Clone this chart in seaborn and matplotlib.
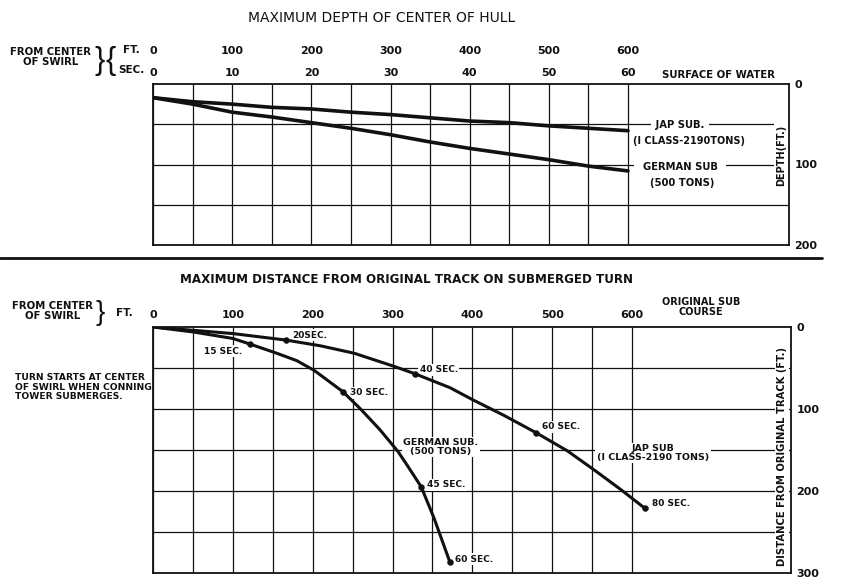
import numpy as np
import pandas as pd
import matplotlib
matplotlib.use("Agg")
import matplotlib.pyplot as plt
import seaborn as sns
from matplotlib.lines import Line2D

# ---------------- data ----------------
# Top chart: maximum depth of center of hull (ft) vs distance from center of swirl (ft)
depth_dist_ft = [0, 50, 100, 150, 200, 250, 300, 350, 400, 450, 500, 550, 600]
jap_depth = [17, 22, 25, 29, 31, 35, 38, 42, 46, 48, 52, 55, 58]
german_depth = [17, 25, 35, 41, 48, 55, 63, 72, 80, 87, 94, 102, 108]

# Bottom chart: distance from original track (ft) vs distance along course (ft)
german_turn_x = [0, 50, 100, 122, 155, 180, 202, 238, 260, 284, 307, 320, 336, 352, 372]
german_turn_y = [0, 6, 14, 21, 32, 41, 53, 79, 100, 125, 152, 171, 195, 233, 287]
jap_turn_x = [0, 50, 100, 167, 210, 252, 302, 328, 372, 401, 440, 480, 519, 555, 587, 616]
jap_turn_y = [0, 4, 8, 16, 23, 32, 48, 57, 74, 89, 108, 129, 151, 176, 199, 221]

# time marks on the turn curves
german_mark_x = [122, 238, 336, 372]
german_mark_y = [21, 79, 195, 287]
german_mark_labels = ["15 SEC.", "30 SEC.", "45 SEC.", "60 SEC."]
jap_mark_x = [167, 328, 480, 616]
jap_mark_y = [16, 57, 129, 221]
jap_mark_labels = ["20SEC.", "40 SEC.", "60 SEC.", "80 SEC."]

# tick labels
ft_ticks = [0, 100, 200, 300, 400, 500, 600]
sec_ticks = [0, 10, 20, 30, 40, 50, 60]
depth_ticks = [0, 100, 200]
offset_ticks = [0, 100, 200, 300]

# ---------------- style ----------------
sns.set_theme(style="white")
plt.rcParams["font.family"] = ["DejaVu Sans"]
plt.rcParams["font.weight"] = "bold"
INK = "#111111"

W, H = 850, 583
fig = plt.figure(figsize=(W / 100, H / 100), dpi=100)
fig.patch.set_facecolor("white")


def rect(l, t, r, b):
    return [l / W, 1 - b / H, (r - l) / W, (b - t) / H]


def ftext(x, y, s, ax=None, **kw):
    kw.setdefault("color", INK)
    if ax is None:
        return fig.text(x / W, 1 - y / H, s, **kw)
    kw.setdefault("zorder", 1)
    return ax.text(x / W, 1 - y / H, s, transform=fig.transFigure,
                   clip_on=False, **kw)


WHITE = dict(facecolor="white", edgecolor="none", boxstyle="square,pad=0.15")


def style_grid(ax, xmax, ymax, hgrid):
    ax.set_xlim(0, xmax)
    ax.set_ylim(ymax, 0)
    ax.set_xticks(np.arange(0, 601, 50))
    ax.set_yticks(hgrid)
    ax.tick_params(length=0, labelbottom=False, labelleft=False,
                   labeltop=False, labelright=False)
    ax.grid(True, color=INK, lw=0.9)
    ax.set_axisbelow(True)
    for s in ax.spines.values():
        s.set_color(INK)
        s.set_linewidth(1.3)
    ax.set_xlabel("")
    ax.set_ylabel("")


def hide_spines(a):
    for s in a.spines.values():
        s.set_visible(False)


# ---------------- top chart ----------------
ax1 = fig.add_axes(rect(153, 84, 789, 245))
sx1 = (628 - 153) / 600
sns.lineplot(x=depth_dist_ft, y=jap_depth, ax=ax1, color=INK, lw=2.6,
             sort=False, estimator=None, zorder=3)
sns.lineplot(x=depth_dist_ft, y=german_depth, ax=ax1, color=INK, lw=2.6,
             sort=False, estimator=None, zorder=3)
style_grid(ax1, (789 - 153) / sx1, 200, [50, 100, 150])

top_ft = ax1.secondary_xaxis("top")
top_ft.set_xticks(ft_ticks)
top_ft.set_xticklabels([str(v) for v in ft_ticks])
top_ft.tick_params(length=0, pad=20.5, labelsize=8, colors=INK)
hide_spines(top_ft)

top_sec = ax1.secondary_xaxis("top", functions=(lambda x: x / 10, lambda s: s * 10))
top_sec.set_xticks(sec_ticks)
top_sec.set_xticklabels([str(v) for v in sec_ticks])
top_sec.tick_params(length=0, pad=4.6, labelsize=8, colors=INK)
hide_spines(top_sec)

r1 = ax1.secondary_yaxis("right")
r1.set_yticks(depth_ticks)
r1.set_yticklabels([str(v) for v in depth_ticks])
r1.tick_params(length=0, pad=4, labelsize=8, colors=INK)
hide_spines(r1)

# ---------------- bottom chart ----------------
ax2 = fig.add_axes(rect(153, 327, 791, 573))
sx2 = (632 - 153) / 600
sns.lineplot(x=german_turn_x, y=german_turn_y, ax=ax2, color=INK, lw=2.2,
             sort=False, estimator=None, zorder=3)
sns.lineplot(x=jap_turn_x, y=jap_turn_y, ax=ax2, color=INK, lw=2.2,
             sort=False, estimator=None, zorder=3)
sns.scatterplot(x=german_mark_x, y=german_mark_y, ax=ax2, color=INK, s=18,
                edgecolor=INK, zorder=5)
sns.scatterplot(x=jap_mark_x, y=jap_mark_y, ax=ax2, color=INK, s=18,
                edgecolor=INK, zorder=5)
style_grid(ax2, (791 - 153) / sx2, 300, [50, 100, 150, 200, 250])

bot_ft = ax2.secondary_xaxis("top")
bot_ft.set_xticks(ft_ticks)
bot_ft.set_xticklabels([str(v) for v in ft_ticks])
bot_ft.tick_params(length=0, pad=5.3, labelsize=8, colors=INK)
hide_spines(bot_ft)

r2 = ax2.secondary_yaxis("right")
r2.set_yticks(offset_ticks)
r2.set_yticklabels([str(v) for v in offset_ticks])
r2.tick_params(length=0, pad=4, labelsize=8, colors=INK)
hide_spines(r2)

# time-mark labels (offsets in points)
german_offsets = [(-5.8, -5.0, "right"), (5.0, -0.7, "left"),
                  (4.3, 1.4, "left"), (3.6, 2.2, "left")]
jap_offsets = [(4.3, 3.6, "left"), (3.6, 2.9, "left"),
               (4.3, 4.3, "left"), (5.0, 3.6, "left")]
for xs, ys, labs, offs in [(german_mark_x, german_mark_y, german_mark_labels, german_offsets),
                           (jap_mark_x, jap_mark_y, jap_mark_labels, jap_offsets)]:
    for x, y, lab, (dx, dy, ha) in zip(xs, ys, labs, offs):
        ax2.annotate(lab, (x, y), xytext=(dx, dy), textcoords="offset points",
                     ha=ha, va="center", fontsize=6.5, color=INK,
                     bbox=WHITE, zorder=1.5)

# ---------------- texts ----------------
BRACE = ["Liberation Sans", "DejaVu Sans"]
ftext(382, 18, "MAXIMUM DEPTH OF CENTER OF HULL", ha="center", va="center",
      fontsize=10, fontweight="normal")
ftext(51, 57, "FROM CENTER\nOF SWIRL", ha="center", va="center",
      fontsize=7.3, linespacing=0.95)
ftext(99.5, 61, "}", ha="center", va="center", fontsize=22,
      fontweight="normal", family=BRACE)
ftext(111, 61, "{", ha="center", va="center", fontsize=22,
      fontweight="normal", family=BRACE)
ftext(123, 50, "FT.", ha="left", va="center", fontsize=7.5)
ftext(118, 70, "SEC.", ha="left", va="center", fontsize=7.5)
ftext(718, 75, "SURFACE OF WATER", ha="center", va="center", fontsize=7.3)

ftext(680, 125, " JAP SUB. ", ax=ax1, ha="center", va="center", fontsize=7.2, bbox=WHITE)
ftext(689, 141, "(I CLASS-2190TONS)", ax=ax1, ha="center", va="center", fontsize=7.0)
ftext(680, 167, "  GERMAN SUB  ", ax=ax1, ha="center", va="center", fontsize=7.2, bbox=WHITE)
ftext(682, 183, "(500 TONS)", ax=ax1, ha="center", va="center", fontsize=7.2)
ftext(781, 155, "DEPTH(FT.)", ax=ax1, ha="center", va="center", fontsize=7,
      rotation=90, bbox=dict(facecolor="white", edgecolor="none", pad=1.5))

fig.add_artist(Line2D([0 / W, 822 / W], [1 - 258 / H, 1 - 258 / H],
                      color=INK, lw=2.0))

ftext(406, 280, "MAXIMUM DISTANCE FROM ORIGINAL TRACK ON SUBMERGED TURN",
      ha="center", va="center", fontsize=8.6)
ftext(53, 311, "FROM CENTER\nOF SWIRL", ha="center", va="center",
      fontsize=7.3, linespacing=0.95)
ftext(100.5, 313, "}", ha="center", va="center", fontsize=20,
      fontweight="normal", family=BRACE)
ftext(116, 313, "FT.", ha="left", va="center", fontsize=7.5)
ftext(701, 307, "ORIGINAL SUB\nCOURSE", ha="center", va="center",
      fontsize=7.0, linespacing=0.95)
ftext(15, 387, "TURN STARTS AT CENTER\nOF SWIRL WHEN CONNING\nTOWER SUBMERGES.",
      ha="left", va="center", fontsize=6.6, linespacing=1.1)

ftext(441, 447, "GERMAN SUB.\n(500 TONS)", ax=ax2, ha="center", va="center",
      fontsize=6.8, linespacing=1.0, bbox=WHITE)
ftext(653, 453, "JAP SUB\n(I CLASS-2190 TONS)", ax=ax2, ha="center", va="center",
      fontsize=6.8, linespacing=1.0, bbox=WHITE)
ftext(782, 456, "DISTANCE FROM ORIGINAL TRACK (FT.)", ax=ax2, ha="center",
      va="center", fontsize=7.2, rotation=90,
      bbox=dict(facecolor="white", edgecolor="none", pad=1.5))

fig.savefig("out.png", dpi=100, facecolor="white")
